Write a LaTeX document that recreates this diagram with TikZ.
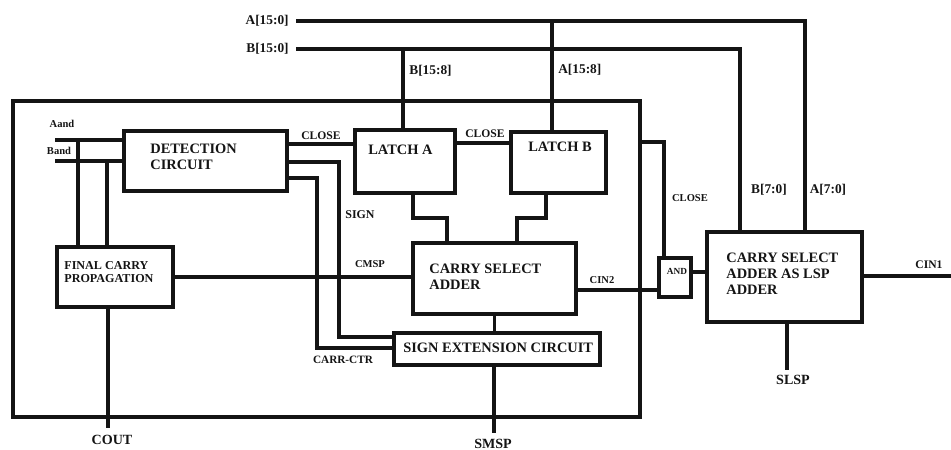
\documentclass[tikz,border=0pt]{standalone}
\usepackage{fontspec}
\setmainfont{Liberation Serif}
\usetikzlibrary{positioning,calc}
\definecolor{ink}{HTML}{141414}

\begin{document}
\begin{tikzpicture}[x=0.02cm,y=-0.02cm,
  wire/.style={draw=ink,line width=2pt},
  blk/.style={draw=ink,line width=2pt,inner sep=0pt},
  txt/.style={font=\fontsize{8.2}{9.2}\selectfont\bfseries,text=ink,align=left,anchor=west,inner sep=0pt},
  sig/.style={font=\fontsize{6}{7}\selectfont\bfseries,text=ink,inner sep=0pt},
  bus/.style={font=\fontsize{7.6}{8}\selectfont\bfseries,text=ink,inner sep=0pt},
  io/.style={font=\fontsize{8}{9}\selectfont\bfseries,text=ink,inner sep=0pt}]
\useasboundingbox (0,0) rectangle (951,450);

\draw[wire] (13,101) rectangle (640,417);

\node[blk,minimum width=3.26cm,minimum height=1.2cm] (det) at (205.5,161) {};
\node[blk,minimum width=2.0cm,minimum height=1.26cm] (latA) at (405,161.5) {};
\node[blk,minimum width=1.9cm,minimum height=1.22cm] (latB) at (558.5,162.5) {};
\node[blk,minimum width=2.32cm,minimum height=1.2cm] (fcp) at (115,277) {};
\node[blk,minimum width=3.26cm,minimum height=1.42cm] (csa) at (494.5,278.5) {};
\node[blk,minimum width=4.12cm,minimum height=0.64cm] (sext) at (497,349) {};
\node[blk,minimum width=0.64cm,minimum height=0.78cm] (and) at (675,277.5) {};
\node[blk,minimum width=3.1cm,minimum height=1.8cm] (lsp) at (784.5,277) {};

\node[txt] (detT) at (150,157) {DETECTION\\CIRCUIT};
\node[txt] (latAT) at (368,150) {LATCH A};
\node[txt] (latBT) at (528,147) {LATCH B};
\node[txt,font=\fontsize{6.9}{7.6}\selectfont\bfseries] (fcpT) at (64,272) {FINAL CARRY\\PROPAGATION};
\node[txt] (csaT) at (429,277) {CARRY SELECT\\ADDER};
\node[txt] (sextT) at (403,348) {SIGN EXTENSION CIRCUIT};
\node[sig,font=\fontsize{5.3}{6}\selectfont\bfseries] (andT) at (677,271) {AND};
\node[txt] (lspT) at (726,274) {CARRY SELECT\\ADDER AS LSP\\ADDER};

\node[bus,anchor=east] (aIn) at (289,21) {A[15:0]};
\node[bus,anchor=east] (bIn) at (289,49) {B[15:0]};
\node[bus,anchor=west] (bHi) at (409,71) {B[15:8]};
\node[bus,anchor=west] (aHi) at (558,70) {A[15:8]};
\node[bus] (bLo) at (769,190) {B[7:0]};
\node[bus] (aLo) at (828,190) {A[7:0]};
\node[sig] (aAnd) at (62,124) {Aand};
\node[sig] (bAnd) at (59,151) {Band};
\node[sig,font=\fontsize{6.6}{7}\selectfont\bfseries] (close1) at (321,136) {CLOSE};
\node[sig,font=\fontsize{6.6}{7}\selectfont\bfseries] (close2) at (485,134) {CLOSE};
\node[sig] (close3) at (690,198) {CLOSE};
\node[sig,font=\fontsize{6.8}{7}\selectfont\bfseries] (sign) at (360,215) {SIGN};
\node[sig] (cmsp) at (370,264) {CMSP};
\node[sig] (cin2) at (602,280) {CIN2};
\node[sig,font=\fontsize{6.4}{7}\selectfont\bfseries] (carr) at (343,360) {CARR-CTR};
\node[sig,font=\fontsize{6.6}{7}\selectfont\bfseries] (cin1) at (929,265) {CIN1};
\node[io] (cout) at (112,440) {COUT};
\node[io] (smsp) at (493,444) {SMSP};
\node[io] (slsp) at (793,380) {SLSP};

\coordinate (aTap) at (552,21);
\coordinate (bTap) at (403,49);
\coordinate (aCol) at (805,21);
\coordinate (bCol) at (740,49);
\coordinate (coutEnd) at (108,428);
\coordinate (smspEnd) at (494,433);
\coordinate (slspEnd) at (787,370);
\coordinate (cin1End) at (951,276);
\coordinate (closeOut) at (640,142);

\draw[wire] ([xshift=4pt]aIn.east) -- (aCol) -- (aCol |- lsp.north);
\draw[wire] ([xshift=4pt]bIn.east) -- (bCol) -- (bCol |- lsp.north);
\draw[wire] (aTap) -- (aTap |- latB.north);
\draw[wire] (bTap) -- (bTap |- latA.north);

\draw[wire] (det.east |- 0,144) -- (latA.west |- 0,144);
\draw[wire] (latA.east |- 0,143) -- (latB.west |- 0,143);
\draw[wire] (det.east |- 0,162) -| (339,337) -- (sext.west |- 0,337);
\draw[wire] (det.east |- 0,178) -| (317,348) -- (sext.west |- 0,348);

\draw[wire] (55,140) -- (det.west |- 0,140);
\draw[wire] (55,161) -- (det.west |- 0,161);
\draw[wire] (78,140) -- (78,0 |- fcp.north);
\draw[wire] (107,161) -- (107,0 |- fcp.north);
\draw[wire] (fcp.east) -- (fcp.east -| csa.west);
\draw[wire] (coutEnd |- fcp.south) -- (coutEnd);

\draw[wire] (latA.south -| 413,0) |- (447,218) -- (447,0 |- csa.north);
\draw[wire] (latB.south -| 546,0) |- (517,218) -- (517,0 |- csa.north);
\draw[wire] (csa.south) -- (csa.south |- sext.north);
\draw[wire] (smspEnd |- sext.south) -- (smspEnd);

\draw[wire] (csa.east |- 0,290) -- (and.west |- 0,290);
\draw[wire] (closeOut) -| (and.north -| 664,0);
\draw[wire] (and.east |- 0,272) -- (lsp.west |- 0,272);
\draw[wire] (lsp.east |- cin1End) -- (cin1End);
\draw[wire] (slspEnd |- lsp.south) -- (slspEnd);
\end{tikzpicture}
\end{document}
